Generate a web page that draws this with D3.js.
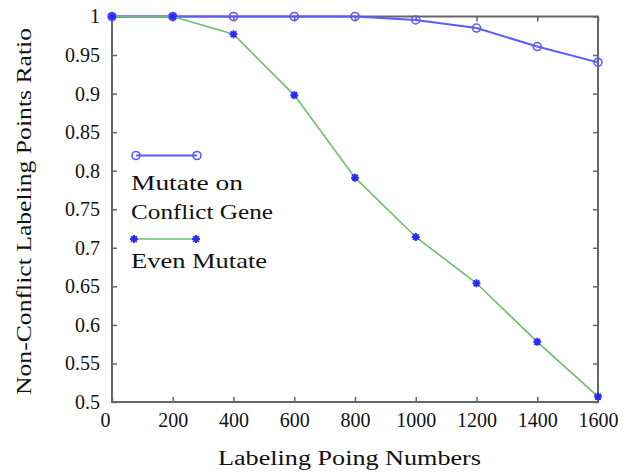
<!DOCTYPE html>
<meta charset="utf-8">
<html>
<head>
<title>Non-conflict labeling points ratio</title>
<script src="https://d3js.org/d3.v7.min.js"></script>
<style type="text/css">
body { margin: 0; background: #fff; }
text { font-family: "Liberation Serif", "Times New Roman", serif; fill: #111; }
.tick text { font-size: 20px; }
.tick line { stroke: #666; stroke-width: 1.5; }
</style>
</head>
<body>
<div id="chart"></div>
<script type="text/javascript">

// data
var labelingPoints = [0, 200, 400, 600, 800, 1000, 1200, 1400, 1600];
var mutateOnConflict = [1, 1, 1, 1, 1, 0.9955, 0.985, 0.961, 0.9405];
var evenMutate = [1, 1, 0.977, 0.898, 0.791, 0.714, 0.654, 0.578, 0.507];
var xTicks = [0, 200, 400, 600, 800, 1000, 1200, 1400, 1600];
var yTicks = [0.5, 0.55, 0.6, 0.65, 0.7, 0.75, 0.8, 0.85, 0.9, 0.95, 1];

var width = 635, height = 475;
var plot = {left: 112, right: 598, top: 16.5, bottom: 402};

var svg = d3.select("#chart")
  .append("svg")
    .attr("width", width)
    .attr("height", height);

var x = d3.scaleLinear().domain([0, 1600]).range([plot.left, plot.right]);
var y = d3.scaleLinear().domain([0.5, 1]).range([plot.bottom, plot.top]);

// axes, ticks pointing inwards
var bottom = svg.append("g")
  .attr("transform", "translate(0," + plot.bottom + ")")
  .call(d3.axisBottom(x).tickValues(xTicks).tickSize(-5).tickPadding(11).tickFormat(d3.format("d")));
bottom.selectAll(".tick text").filter(function(d) { return d === 0; }).attr("dx", -7);

svg.append("g")
  .attr("transform", "translate(0," + plot.top + ")")
  .call(d3.axisTop(x).tickValues(xTicks).tickSize(-5).tickFormat(""));

svg.append("g")
  .attr("transform", "translate(" + plot.left + ",0)")
  .call(d3.axisLeft(y).tickValues(yTicks).tickSize(-5).tickPadding(12)
    .tickFormat(function(d) { return +d.toFixed(2); }));

svg.append("g")
  .attr("transform", "translate(" + plot.right + ",0)")
  .call(d3.axisRight(y).tickValues(yTicks).tickSize(-5).tickFormat(""));

svg.selectAll(".domain").remove();
svg.selectAll(".tick text").attr("fill", "#111").style("font-family", "'Liberation Serif', serif");

svg.append("rect")
  .attr("x", plot.left).attr("y", plot.top)
  .attr("width", plot.right - plot.left).attr("height", plot.bottom - plot.top)
  .attr("fill", "none").attr("stroke", "#666").attr("stroke-width", 2);

var blue = "#5a5aff", green = "#6cbf6c", starBlue = "#2a2aff";

function star(r) {
  var a = r * 0.72;
  return "M" + (-r) + ",0L" + r + ",0M0," + (-r) + "L0," + r +
    "M" + (-a) + "," + (-a) + "L" + a + "," + a + "M" + (-a) + "," + a + "L" + a + "," + (-a);
}

var line = d3.line()
  .x(function(d) { return x(d[0]); })
  .y(function(d) { return y(d[1]); });

var seriesA = labelingPoints.map(function(p, i) { return [p, mutateOnConflict[i]]; });
var seriesB = labelingPoints.map(function(p, i) { return [p, evenMutate[i]]; });

// Mutate on Conflict Gene
svg.append("path").datum(seriesA)
  .attr("d", line).attr("fill", "none").attr("stroke", blue).attr("stroke-width", 2);
svg.selectAll(".circ").data(seriesA).enter().append("circle")
  .attr("cx", function(d) { return x(d[0]); })
  .attr("cy", function(d) { return y(d[1]); })
  .attr("r", 4).attr("fill", "none").attr("stroke", blue).attr("stroke-width", 1.6);

// Even Mutate
svg.append("path").datum(seriesB)
  .attr("d", line).attr("fill", "none").attr("stroke", green).attr("stroke-width", 1.6);
svg.selectAll(".star").data(seriesB).enter().append("path")
  .attr("transform", function(d) { return "translate(" + x(d[0]) + "," + y(d[1]) + ")"; })
  .attr("d", star(4)).attr("fill", "none").attr("stroke", starBlue).attr("stroke-width", 2);

// legend
var lg = svg.append("g");
lg.append("line").attr("x1", 136).attr("x2", 197).attr("y1", 155.5).attr("y2", 155.5)
  .attr("stroke", blue).attr("stroke-width", 2);
[136, 197].forEach(function(px) {
  lg.append("circle").attr("cx", px).attr("cy", 155.5).attr("r", 4)
    .attr("fill", "none").attr("stroke", blue).attr("stroke-width", 1.6);
});
lg.append("line").attr("x1", 134).attr("x2", 196).attr("y1", 239).attr("y2", 239)
  .attr("stroke", green).attr("stroke-width", 1.6);
[134, 196].forEach(function(px) {
  lg.append("path").attr("transform", "translate(" + px + ",239)")
    .attr("d", star(4)).attr("fill", "none").attr("stroke", starBlue).attr("stroke-width", 2);
});
[["Mutate on", 190, 112], ["Conflict Gene", 219, 142], ["Even Mutate", 268, 136]].forEach(function(t) {
  lg.append("text").attr("x", 131).attr("y", t[1])
    .attr("textLength", t[2]).attr("lengthAdjust", "spacingAndGlyphs")
    .style("font-size", "22px").text(t[0]);
});

// axis titles
svg.append("text")
  .attr("x", 218).attr("y", 465)
  .attr("textLength", 263).attr("lengthAdjust", "spacingAndGlyphs")
  .style("font-size", "20px")
  .text("Labeling Poing Numbers");

svg.append("text")
  .attr("transform", "translate(31,395) rotate(-90)")
  .attr("textLength", 367).attr("lengthAdjust", "spacingAndGlyphs")
  .style("font-size", "20px")
  .text("Non-Conflict Labeling Points Ratio");

</script>
</body>
</html>
